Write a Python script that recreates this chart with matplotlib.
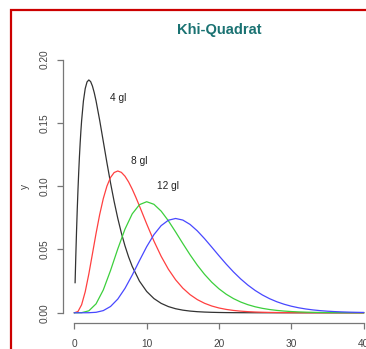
import matplotlib
matplotlib.use("Agg")
import matplotlib.pyplot as plt
from matplotlib.patches import Rectangle

plt.rcParams['font.family'] = ['Liberation Sans', 'DejaVu Sans']

# 4 gl (starts slightly above 0, finer near the peak)
x4 = [0.1, 0.2, 0.3, 0.4, 0.5, 0.6, 0.7, 0.8, 0.9, 1, 1.25, 1.5, 1.75, 2,
      2.25, 2.5, 2.75, 3, 3.5, 4, 4.5, 5, 5.5, 6, 6.5, 7, 7.5, 8,
      9, 10, 11, 12, 13, 14, 15, 16, 17, 18, 19, 20, 21, 22, 23, 24, 25, 26,
      27, 28, 29, 30, 31, 32, 33, 34, 35, 36, 37, 38, 39, 40]
y4 = [0.02378, 0.04524, 0.06455, 0.08187, 0.09735, 0.11112, 0.12332, 0.13406,
      0.14347, 0.15163, 0.16727, 0.17714, 0.18238, 0.18394, 0.18262, 0.17907,
      0.17383, 0.16735, 0.15205,
      0.13534, 0.11857, 0.10261, 0.08790, 0.07468, 0.06301, 0.05284, 0.04410,
      0.03663, 0.02500, 0.01684, 0.01124, 0.00744, 0.00489, 0.00319, 0.00207,
      0.00134, 0.00086, 0.00056, 0.00036, 0.00023, 0.00014, 0.00009, 0.00006,
      0.00004, 0.00002, 0.00001, 0.00001, 0.0, 0.0, 0.0, 0.0, 0.0, 0.0, 0.0,
      0.0, 0.0, 0.0, 0.0, 0.0, 0.0]

# 8 gl
x8 = [0, 0.5, 1, 1.5, 2, 2.5, 3, 3.5, 4, 4.5, 5, 5.5, 6, 6.5, 7, 7.5, 8, 8.5,
      9, 9.5, 10, 11, 12, 13, 14, 15, 16, 17, 18, 19, 20, 21, 22, 23, 24, 25,
      26, 27, 28, 29, 30, 31, 32, 33, 34, 35, 36, 37, 38, 39, 40]
y8 = [0.0, 0.001014, 0.006318, 0.016607, 0.030657, 0.046632, 0.062755,
      0.077611, 0.090224, 0.100046, 0.106882, 0.110793, 0.112021, 0.110918,
      0.107891, 0.103351, 0.097685, 0.091249, 0.084359, 0.077268, 0.070186,
      0.056662, 0.044618, 0.034406,
      0.026065, 0.019444, 0.014313, 0.010413, 0.007497, 0.005348, 0.003783,
      0.002656, 0.001853, 0.001284, 0.000885, 0.000607, 0.000414, 0.000281,
      0.000190, 0.000128, 0.000086, 0.000058, 0.000038, 0.000026, 0.00002,
      0.00001, 0.00001, 0.0, 0.0, 0.0, 0.0]

# 12 gl and 16 gl
x_int = list(range(0, 41))
y12 = [0.0, 0.000079, 0.001533, 0.007060, 0.018045, 0.033400, 0.050409,
       0.066084, 0.078148, 0.085413, 0.087733, 0.085701, 0.080313, 0.072682,
       0.063858, 0.054687, 0.045801, 0.037617, 0.030363, 0.024133, 0.018917,
       0.014643, 0.011208, 0.008490, 0.006370, 0.004739, 0.003497, 0.002562,
       0.001863, 0.001347, 0.000968, 0.000692, 0.000492, 0.000348, 0.000245,
       0.000172, 0.000120, 0.000083, 0.000058, 0.000040, 0.000028]
y16 = [0.0, 0.0000005, 0.0000365, 0.000378, 0.001719, 0.004970, 0.010802,
       0.019274, 0.029771, 0.041181, 0.052222, 0.061725, 0.068840, 0.073115,
       0.074501, 0.073241, 0.069792, 0.064710, 0.058559, 0.051857, 0.045040,
       0.038439, 0.032289, 0.026732, 0.021841, 0.017629, 0.014070, 0.011115,
       0.008696, 0.006743, 0.005185, 0.003956, 0.002997, 0.002255, 0.001685,
       0.001252, 0.000925, 0.000680, 0.000497, 0.000361, 0.000262]

labels = ["4 gl", "8 gl", "12 gl"]
label_x = [6, 9, 13]
label_y = [0.17, 0.12, 0.10]

x_ticks = [0, 10, 20, 30, 40]
y_ticks = [0.00, 0.05, 0.10, 0.15, 0.20]
y_ticklabels = ["0.00", "0.05", "0.10", "0.15", "0.20"]

fig = plt.figure(figsize=(3.66, 3.49), dpi=100)
fig.patch.set_facecolor("white")

# red frame (cropped on right and bottom)
fig.add_artist(Rectangle((11 / 366, -0.1), 1.2, 1 - 10 / 349 + 0.1,
                         transform=fig.transFigure, fill=False,
                         edgecolor="#cc0000", linewidth=1.6))

ax = fig.add_axes([62.8 / 366, (349 - 322.9) / 349, 312.4 / 366, 273.4 / 349])
ax.set_facecolor("none")

lw = 0.9
ax.plot(x4, y4, color="#333333", lw=lw)
ax.plot(x8, y8, color="#ff4040", lw=lw)
ax.plot(x_int, y12, color="#3ccf3c", lw=lw)
ax.plot(x_int, y16, color="#4848ff", lw=lw)

for t, xx, yy in zip(labels, label_x, label_y):
    ax.text(xx, yy, t, ha="center", va="center", fontsize=7.3, color="#222222")

ax.set_xlim(-1.6, 41.6)
ax.set_ylim(-0.008, 0.208)

for s in ["top", "right"]:
    ax.spines[s].set_visible(False)
ax.spines["left"].set_bounds(0, 0.2)
ax.spines["bottom"].set_bounds(0, 40)
for s in ["left", "bottom"]:
    ax.spines[s].set_color("#777777")
    ax.spines[s].set_linewidth(0.9)

ax.set_xticks(x_ticks)
ax.set_yticks(y_ticks)
ax.set_yticklabels(y_ticklabels, rotation=90, va="center")
ax.tick_params(axis="x", direction="out", length=4.5, width=0.9,
               color="#777777", labelsize=7.3, labelcolor="#444444", pad=7)
ax.tick_params(axis="y", direction="out", length=4.5, width=0.9,
               color="#777777", labelsize=7.3, labelcolor="#444444", pad=5)

ax.set_ylabel("y", fontsize=7.3, color="#444444", labelpad=7)
ax.set_title("Khi-Quadrat", fontsize=10.5, fontweight="bold", color="#1a7272",
             pad=11)

fig.savefig("out.png", dpi=100)
